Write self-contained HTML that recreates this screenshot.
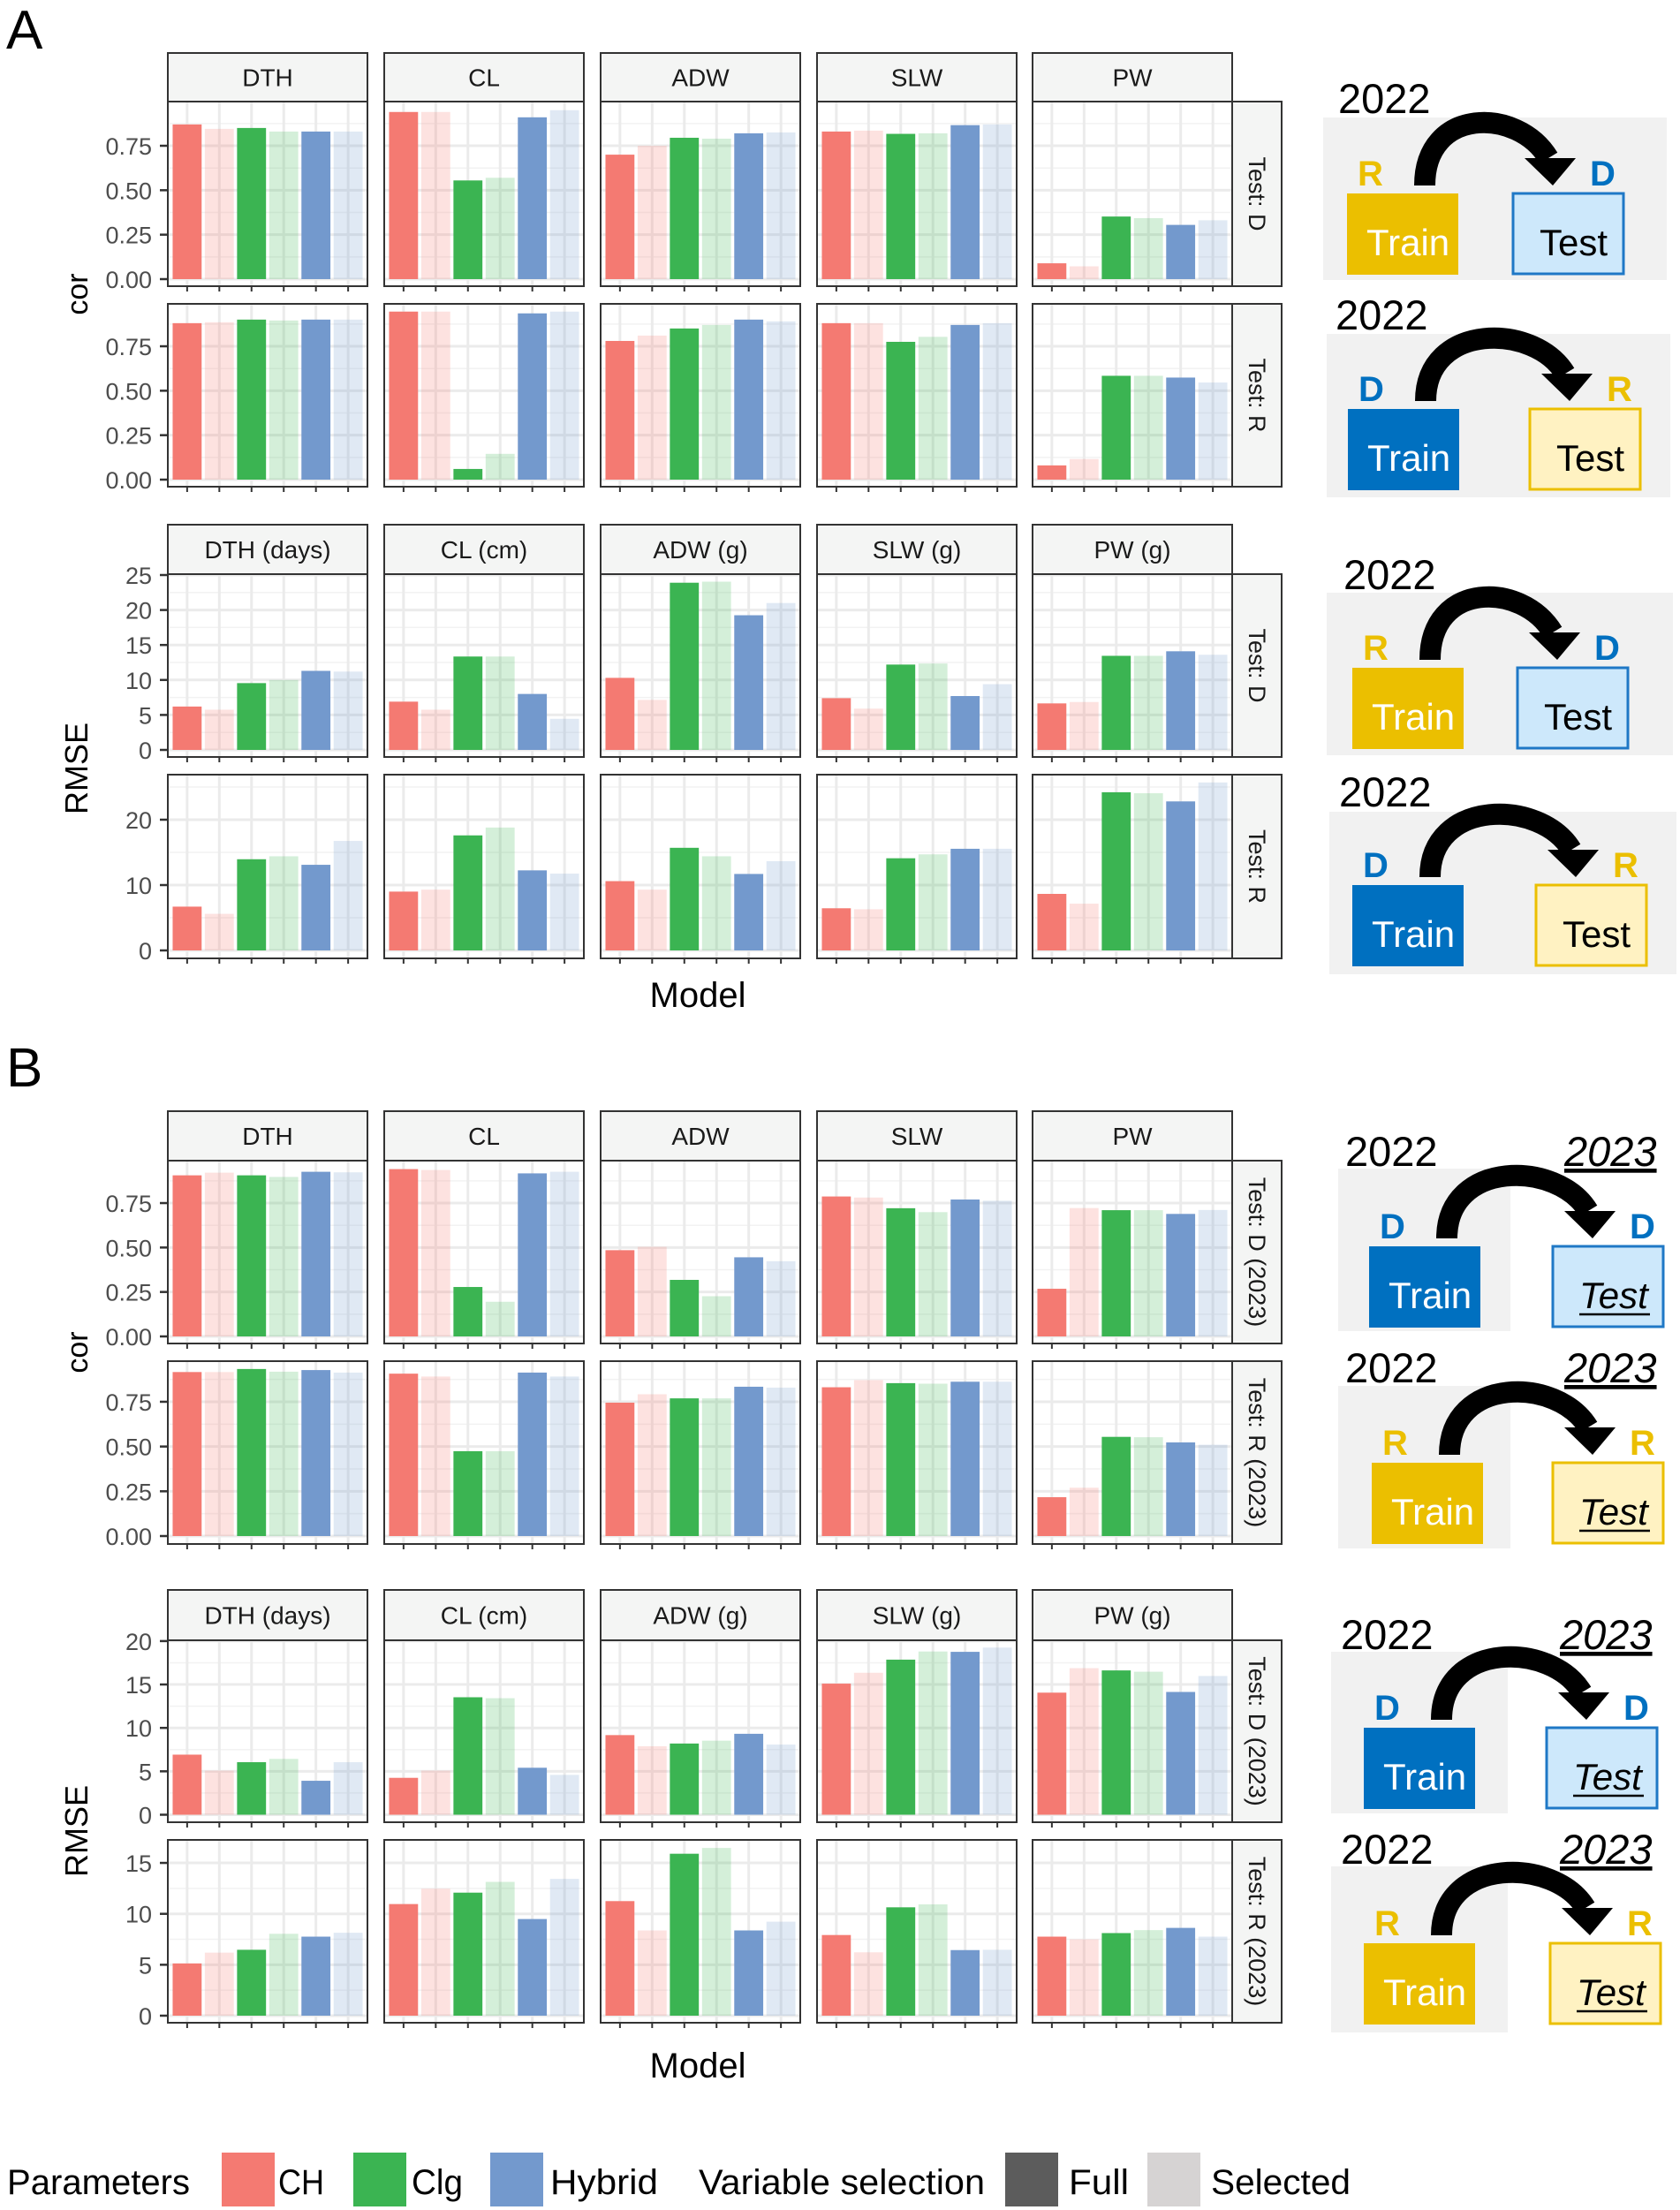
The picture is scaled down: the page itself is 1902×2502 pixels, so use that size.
<!DOCTYPE html>
<html><head><meta charset="utf-8"><style>
html,body{margin:0;padding:0;background:#fff;}
svg{display:block;font-family:"Liberation Sans",sans-serif;}
</style></head><body>
<svg id="fig" width="1902" height="2502" viewBox="0 0 1902 2502" xmlns="http://www.w3.org/2000/svg"></svg>
<script>
const categories = ['CH Full','CH Selected','Clg Full','Clg Selected','Hybrid Full','Hybrid Selected'];
const traitsCor = ['DTH','CL','ADW','SLW','PW'];
const traitsRmse = ['DTH (days)','CL (cm)','ADW (g)','SLW (g)','PW (g)'];
const tickCor = [0,0.25,0.5,0.75];
const tickCorLabels = ['0.00','0.25','0.50','0.75'];
const tickArmse1 = [0,5,10,15,20,25];
const tickArmse2 = [0,10,20];
const tickBrmse1 = [0,5,10,15,20];
const tickBrmse2 = [0,5,10,15];
// A cor Test: D
const aCorD = [[0.87,0.845,0.85,0.83,0.83,0.83],[0.94,0.94,0.555,0.57,0.91,0.95],[0.70,0.75,0.795,0.79,0.82,0.825],[0.83,0.835,0.817,0.82,0.866,0.87],[0.089,0.072,0.352,0.343,0.305,0.331]];
// A cor Test: R
const aCorR = [[0.88,0.885,0.90,0.895,0.90,0.90],[0.945,0.945,0.06,0.145,0.935,0.945],[0.78,0.81,0.85,0.87,0.90,0.89],[0.88,0.88,0.775,0.803,0.87,0.88],[0.08,0.116,0.584,0.584,0.574,0.546]];
// A RMSE Test: D
const aRmseD = [[6.2,5.75,9.55,10.0,11.3,11.2],[6.9,5.75,13.35,13.35,8.0,4.45],[10.3,7.15,23.9,24.05,19.25,21.0],[7.4,5.9,12.2,12.35,7.7,9.4],[6.65,6.85,13.45,13.45,14.1,13.6]];
// A RMSE Test: R
const aRmseR = [[6.7,5.6,13.95,14.4,13.1,16.75],[9.0,9.3,17.6,18.8,12.25,11.75],[10.6,9.3,15.7,14.4,11.7,13.65],[6.45,6.3,14.1,14.7,15.55,15.55],[8.65,7.15,24.2,24.05,22.8,25.7]];
// B cor Test: D (2023)
const bCorD = [[0.906,0.921,0.906,0.897,0.926,0.923],[0.941,0.936,0.278,0.195,0.917,0.926],[0.485,0.504,0.318,0.226,0.445,0.423],[0.787,0.781,0.721,0.699,0.770,0.763],[0.268,0.722,0.710,0.710,0.689,0.711]];
// B cor Test: R (2023)
const bCorR = [[0.916,0.916,0.933,0.918,0.927,0.913],[0.907,0.891,0.474,0.474,0.913,0.891],[0.745,0.792,0.769,0.769,0.834,0.829],[0.831,0.871,0.854,0.851,0.862,0.862],[0.217,0.27,0.554,0.552,0.523,0.51]];
// B RMSE Test: D (2023)
const bRmseD = [[6.92,5.08,6.05,6.43,3.91,6.05],[4.25,5.08,13.53,13.42,5.41,4.59],[9.17,7.89,8.2,8.53,9.32,8.08],[15.1,16.35,17.86,18.8,18.76,19.25],[14.06,16.88,16.62,16.47,14.14,15.98]];
// B RMSE Test: R (2023)
const bRmseR = [[5.13,6.19,6.47,8.04,7.76,8.14],[10.96,12.47,12.08,13.14,9.49,13.43],[11.25,8.37,15.9,16.47,8.37,9.23],[7.92,6.22,10.64,10.93,6.44,6.47],[7.76,7.5,8.11,8.4,8.62,7.76]];

const NS='http://www.w3.org/2000/svg';
const svg=document.getElementById('fig');
function mk(tag,attrs,parent){const e=document.createElementNS(NS,tag);for(const k in attrs)e.setAttribute(k,attrs[k]);(parent||svg).appendChild(e);return e;}
function txt(s,attrs,parent){const e=mk('text',attrs,parent);e.textContent=s;return e;}

const fullColors=['#f47a72','#f47a72','#3bb452','#3bb452','#7399cd','#7399cd'];
const panelX=[190,435,680,925,1169];
const PW=226;

function drawRow(data,row,ticks,tickLabels,rowName,stripLabels,stripTop){
  const g=mk('g',{});
  
  
  const yScale=v=>row.zero-v*row.ppu;
  const xScale=i=>(0.6+i)*(PW/6.2);
  const bw=0.9*PW/6.2;
  for(let p=0;p<5;p++){
    const x0=panelX[p];
    if(stripLabels){
      const s=mk('rect',{x:x0,y:stripTop,width:PW,height:row.top-stripTop,fill:'#f4f5f4',stroke:'#333','stroke-width':2},g);
      
      
      const t=txt(stripLabels[p],{x:x0+PW/2,y:stripTop+(row.top-stripTop)/2+10,'font-size':28,'text-anchor':'middle',fill:'#1a1a1a'},g);
      
      
    }
    mk('rect',{x:x0,y:row.top,width:PW,height:row.bottom-row.top,fill:'#fff'},g);
    // grid
    for(let k=0;k<ticks.length;k++){
      const yy=yScale(ticks[k]);
      mk('line',{x1:x0,x2:x0+PW,y1:yy,y2:yy,stroke:'#ebebeb','stroke-width':3},g);
      if(k<ticks.length-1){const ym=yScale((ticks[k]+ticks[k+1])/2);mk('line',{x1:x0,x2:x0+PW,y1:ym,y2:ym,stroke:'#f2f2f2','stroke-width':1.5},g);}
    }
    const lastM=yScale(ticks[ticks.length-1]+(ticks[1]-ticks[0])/2);
    if(lastM>row.top) mk('line',{x1:x0,x2:x0+PW,y1:lastM,y2:lastM,stroke:'#f2f2f2','stroke-width':1.5},g);
    for(let i=0;i<6;i++){mk('line',{x1:x0+xScale(i),x2:x0+xScale(i),y1:row.top,y2:row.bottom,stroke:'#ebebeb','stroke-width':3},g);}
    for(let i=0;i<6;i++){
      const v=data[p][i];
      const b=mk('rect',{x:x0+xScale(i)-bw/2,y:yScale(v),width:bw,height:yScale(0)-yScale(v),fill:fullColors[i],'fill-opacity':(i%2===0)?1:0.22},g);
      
      
      mk('line',{x1:x0+xScale(i),x2:x0+xScale(i),y1:row.bottom,y2:row.bottom+6,stroke:'#333','stroke-width':2},g);
    }
    mk('rect',{x:x0,y:row.top,width:PW,height:row.bottom-row.top,fill:'none',stroke:'#333','stroke-width':2},g);
  }
  // y axis ticks on first panel
  for(let k=0;k<ticks.length;k++){
    const yy=yScale(ticks[k]);
    mk('line',{x1:181,x2:190,y1:yy,y2:yy,stroke:'#333','stroke-width':2.5},g);
    const t=txt(tickLabels[k],{x:172,y:yy+10,'font-size':27,'text-anchor':'end',fill:'#4d4d4d'},g);
    
    
  }
  // right strip
  const rs=mk('rect',{x:1395,y:row.top,width:56,height:row.bottom-row.top,fill:'#f4f5f4',stroke:'#333','stroke-width':2},g);
  
  
  const cy=(row.top+row.bottom)/2;
  const rt=txt(row.label,{x:1414,y:cy,'font-size':27,'text-anchor':'middle',fill:'#1a1a1a',transform:'rotate(90 1414 '+cy+')'},g);
  
  
}

drawRow(aCorD,{top:115,bottom:324,zero:316,ppu:201.3,label:'Test: D'},tickCor,tickCorLabels,'a-cor-test-d',traitsCor,60);
drawRow(aCorR,{top:344,bottom:551,zero:543,ppu:201.3,label:'Test: R'},tickCor,tickCorLabels,'a-cor-test-r',null);
drawRow(aRmseD,{top:650,bottom:857,zero:849,ppu:7.92,label:'Test: D'},tickArmse1,tickArmse1.map(String),'a-rmse-test-d',traitsRmse,594);
drawRow(aRmseR,{top:877,bottom:1085,zero:1076,ppu:7.4,label:'Test: R'},tickArmse2,tickArmse2.map(String),'a-rmse-test-r',null);
drawRow(bCorD,{top:1314,bottom:1521,zero:1513,ppu:201.3,label:'Test: D (2023)'},tickCor,tickCorLabels,'b-cor-test-d',traitsCor,1258);
drawRow(bCorR,{top:1541,bottom:1748,zero:1739,ppu:202.7,label:'Test: R (2023)'},tickCor,tickCorLabels,'b-cor-test-r',null);
drawRow(bRmseD,{top:1857,bottom:2063,zero:2054.5,ppu:9.83,label:'Test: D (2023)'},tickBrmse1,tickBrmse1.map(String),'b-rmse-test-d',traitsRmse,1800);
drawRow(bRmseR,{top:2083,bottom:2290,zero:2282,ppu:11.53,label:'Test: R (2023)'},tickBrmse2,tickBrmse2.map(String),'b-rmse-test-r',null);

// axis titles
function title(s,x,y,rot,size,name){const t=txt(s,{x:x,y:y,'font-size':size,'text-anchor':'middle',fill:'#000',transform:rot?('rotate(-90 '+x+' '+y+')'):''});}
title('cor',99,333,true,34,'y-axis-title-cor-a');
title('RMSE',99,870,true,36,'y-axis-title-rmse-a');
title('Model',790,1140,false,40,'x-axis-title-a');
title('cor',99,1531,true,34,'y-axis-title-cor-b');
title('RMSE',99,2073,true,36,'y-axis-title-rmse-b');
title('Model',790,2352,false,40,'x-axis-title-b');
const pa=txt('A',{x:7,y:55,'font-size':62,fill:'#000'});
const pb=txt('B',{x:7,y:1230,'font-size':62,fill:'#000'});

// diagrams
const GOLD='#ebbf00',BLUE='#0070c0';
function diagram(d){
  const g=mk('g',{});
  
  
  mk('rect',{x:d.gx,y:d.gy,width:d.gw,height:d.gh,fill:'#f1f1f1'},g);
  const yr=txt('2022',{x:d.yx,y:d.yb,'font-size':47,fill:'#000'},g);
  
  
  if(d.b){const y2=txt('2023',{x:d.y2x,y:d.yb,'font-size':47,fill:'#000','font-style':'italic','text-decoration':'underline'},g);
    
    
    mk('line',{x1:d.y2x,x2:d.y2x+104,y1:d.yb+6,y2:d.yb+6,stroke:'#000','stroke-width':2.5},g);}
  const tx=d.tx,ty=d.ty,sx=d.sx;
  const tr=mk('rect',{x:tx,y:ty,width:126,height:92,fill:d.train==='R'?GOLD:BLUE},g);
  
  
  txt('Train',{x:tx+22,y:ty+70,'font-size':42,fill:'#fff'},g);
  const te=mk('rect',{x:sx,y:ty,width:125,height:91,fill:d.test==='R'?'#fff2c2':'#cde8fb',stroke:d.test==='R'?GOLD:'#1f78c6','stroke-width':3},g);
  
  
  txt('Test',{x:sx+30,y:ty+70,'font-size':42,fill:'#000','font-style':d.b?'italic':'normal'},g);
  if(d.b) mk('line',{x1:sx+30,x2:sx+110,y1:ty+77,y2:ty+77,stroke:'#000','stroke-width':2.5},g);
  txt(d.train,{x:tx+12,y:ty-9,'font-size':40,'font-weight':'bold',fill:d.train==='R'?GOLD:BLUE},g);
  txt(d.test,{x:sx+87,y:ty-9,'font-size':40,'font-weight':'bold',fill:d.test==='R'?GOLD:BLUE},g);
  const ax=tx+88,hx=sx+45,top=ty-78;
  const ar=mk('path',{d:'M'+ax+' '+(ty-9)+' C '+ax+' '+(top-20)+' '+(hx-40)+' '+(top-20)+' '+(hx-5)+' '+(ty-40),fill:'none',stroke:'#000','stroke-width':24},g);
  
  
  mk('polygon',{points:(hx-32)+','+(ty-40)+' '+(hx+26)+','+(ty-40)+' '+hx+','+(ty-9),fill:'#000'},g);
}
diagram({gx:1498,gy:133,gw:389,gh:184,yx:1515,yb:128,tx:1525,ty:219,sx:1713,train:'R',test:'D'});
diagram({gx:1502,gy:378,gw:389,gh:185,yx:1512,yb:373,tx:1526,ty:463,sx:1732,train:'D',test:'R'});
diagram({gx:1502,gy:671,gw:392,gh:184,yx:1521,yb:667,tx:1531,ty:756,sx:1718,train:'R',test:'D'});
diagram({gx:1505,gy:919,gw:393,gh:184,yx:1516,yb:913,tx:1531,ty:1002,sx:1739,train:'D',test:'R'});
diagram({gx:1515,gy:1323,gw:195,gh:184,yx:1523,yb:1320,y2x:1771,tx:1550,ty:1411,sx:1758,train:'D',test:'D',b:true});
diagram({gx:1515,gy:1569,gw:195,gh:184,yx:1523,yb:1565,y2x:1771,tx:1553,ty:1656,sx:1758,train:'R',test:'R',b:true});
diagram({gx:1507,gy:1870,gw:200,gh:183,yx:1518,yb:1867,y2x:1766,tx:1544,ty:1956,sx:1751,train:'D',test:'D',b:true});
diagram({gx:1507,gy:2113,gw:200,gh:188,yx:1518,yb:2110,y2x:1766,tx:1544,ty:2200,sx:1755,train:'R',test:'R',b:true});

// legend
const lg=mk('g',{});


function lt(s,x,w){const t=txt(s,{x:x,y:2484,'font-size':40,fill:'#000',textLength:w,lengthAdjust:'spacingAndGlyphs'},lg);}
function sw(x,c,name){const r=mk('rect',{x:x,y:2437,width:60,height:61,fill:c},lg);}
lt('Parameters',8,207);
sw(251,'#f47a72','legend-swatch-ch');lt('CH',315,52);
sw(400,'#3bb452','legend-swatch-clg');lt('Clg',466,58);
sw(555,'#7399cd','legend-swatch-hybrid');lt('Hybrid',623,122);
lt('Variable selection',791,324);
sw(1138,'#5c5c5c','legend-swatch-full');lt('Full',1210,68);
sw(1299,'#d6d3d3','legend-swatch-selected');lt('Selected',1371,158);
</script>
</body></html>
